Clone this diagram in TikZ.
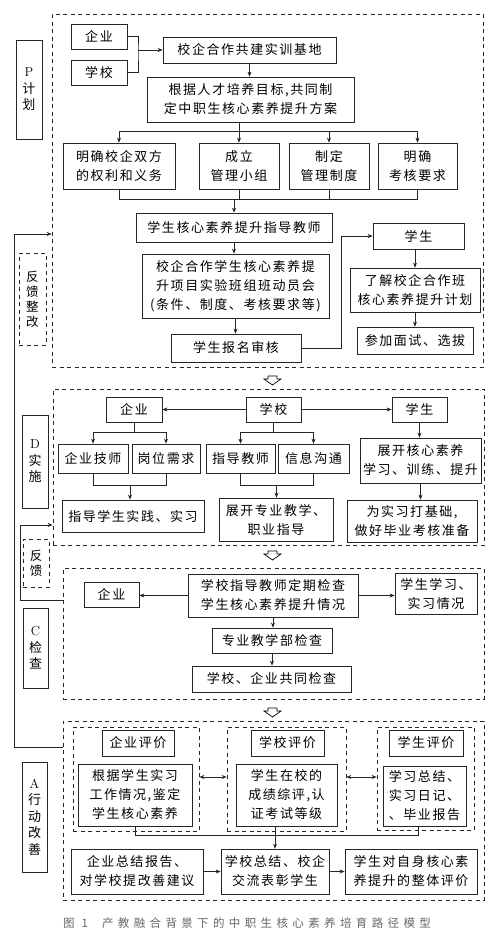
\documentclass[tikz,border=0pt]{standalone}
\usepackage{fontspec}
\usetikzlibrary{arrows.meta}
\newfontfamily\cjk[LetterSpace=12]{Noto Sans CJK SC}
\newfontfamily\cjkcap[LetterSpace=38]{Noto Sans CJK SC}
\newcommand\mybox[7][box]{\node[#1, minimum width={(#5-#3)*1pt}, minimum height={(#6-#4)*1pt}] (#2) at ({(#3+#5)/2},{(#4+#6)/2}) {#7};}
\newcommand\hollowarrow[1]{\draw[line width=0.7pt, fill=white] (268,#1)--(277,#1)--(277,#1+3)--(281,#1+3)--(272.5,#1+9)--(264,#1+3)--(268,#1+3)--cycle;}
\begin{document}
\begin{tikzpicture}[x=1pt,y=-1pt,
  box/.style={draw=black!85, line width=0.7pt, inner sep=0pt, align=center, font=\cjk\fontsize{13}{19}\selectfont},
  lbox/.style={box, font=\cjk\fontsize{13}{16.5}\selectfont},
  dbox/.style={draw=black!85, line width=0.7pt, dash pattern=on 4pt off 3.5pt, inner sep=0pt},
  dlbox/.style={dbox, align=center, font=\cjk\fontsize{12.5}{15}\selectfont},
  ln/.style={draw=black!85, line width=0.7pt},
  arr/.style={ln, -{Stealth[length=5pt,width=4pt]}},
  darr/.style={ln, {Stealth[length=5pt,width=4pt]}-{Stealth[length=5pt,width=4pt]}}]
\useasboundingbox (0,0) rectangle (500,935);

% outer dashed frames
\mybox[dbox]{Po}{52}{14}{483}{367}{}
\mybox[dbox]{Do}{53}{389}{484}{545}{}
\mybox[dbox]{Co}{63}{568}{484}{699}{}
\mybox[dbox]{Ao}{63}{721}{484}{900}{}

% stage labels
\mybox[lbox]{Pl}{16}{40}{42}{139}{{\rmfamily P}\\计\\划}
\mybox[lbox]{Dl}{22}{415}{48}{508}{{\rmfamily D}\\实\\施}
\mybox[lbox]{Cl}{23}{608}{48}{688}{{\rmfamily C}\\检\\查}
\mybox[lbox]{Al}{22}{762}{47}{872}{{\rmfamily A}\\行\\动\\改\\善}
\mybox[dlbox]{fk1}{19}{253}{46}{345}{反\\馈\\整\\改}
\mybox[dlbox]{fk2}{23}{539}{49}{587}{反\\馈}

% P section
\mybox{qy1}{71}{24}{127}{49}{企业}
\mybox{xx1}{71}{60}{127}{85}{学校}
\mybox{jd}{163}{37}{336}{63}{校企合作共建实训基地}
\mybox{fa}{147}{77}{354}{122}{根据人才培养目标,共同制\\定中职生核心素养提升方案}
\mybox{b1}{63}{143}{175}{189}{明确校企双方\\的权利和义务}
\mybox{b2}{199}{143}{279}{189}{成立\\管理小组}
\mybox{b3}{289}{143}{369}{189}{制定\\管理制度}
\mybox{b4}{378}{143}{457}{189}{明确\\考核要求}
\mybox{td}{136}{213}{332}{242}{学生核心素养提升指导教师}
\mybox{dy}{142}{254}{329}{318}{校企合作学生核心素养提\\升项目实验班组班动员会\\(条件、制度、考核要求等)}
\mybox{bm}{171}{334}{301}{362}{学生报名审核}
\mybox{xs1}{373}{223}{464}{249}{学生}
\mybox{lj}{350}{268}{480}{312}{了解校企合作班\\核心素养提升计划}
\mybox{cj}{357}{327}{473}{354}{参加面试、选拔}

% D section
\mybox{qy2}{106}{397}{162}{422}{企业}
\mybox{xx2}{246}{397}{301}{422}{学校}
\mybox{xs2}{392}{397}{447}{422}{学生}
\mybox{js}{58}{444}{128}{473}{企业技师}
\mybox{gw}{132}{444}{200}{473}{岗位需求}
\mybox{zdj}{206}{444}{275}{473}{指导教师}
\mybox{xxg}{278}{444}{349}{473}{信息沟通}
\mybox{zd}{62}{500}{204}{532}{指导学生实践、实习}
\mybox{zk}{219}{498}{333}{541}{展开专业教学、\\职业指导}
\mybox{zkh}{360}{438}{481}{483}{展开核心素养\\学习、训练、提升}
\mybox{wsx}{347}{500}{477}{542}{为实习打基础,\\做好毕业考核准备}

% C section
\mybox{qy3}{84}{582}{139}{607}{企业}
\mybox{jc}{188}{574}{358}{617}{学校指导教师定期检查\\学生核心素养提升情况}
\mybox{xq}{395}{573}{477}{614}{学生学习、\\实习情况}
\mybox{zy}{212}{628}{332}{653}{专业教学部检查}
\mybox{gj}{192}{666}{351}{692}{学校、企业共同检查}

% A section
\mybox[dbox]{sd1}{73}{727}{199}{831}{}
\mybox[dbox]{sd2}{227}{727}{346}{831}{}
\mybox[dbox]{sd3}{377}{727}{474}{830}{}
\mybox{qp}{102}{730}{174}{756}{企业评价}
\mybox{qg}{78}{764}{192}{826}{根据学生实习\\工作情况,鉴定\\学生核心素养}
\mybox{xp}{251}{730}{324}{756}{学校评价}
\mybox{xg}{236}{764}{337}{826}{学生在校的\\成绩综评,认\\证考试等级}
\mybox{sp}{389}{730}{463}{756}{学生评价}
\mybox{sg}{383}{766}{466}{826}{学习总结、\\实习日记、\\、毕业报告}
\mybox{qz}{71}{849}{203}{894}{企业总结报告、\\对学校提改善建议}
\mybox{xz}{221}{849}{329}{894}{学校总结、校企\\交流表彰学生}
\mybox{xd}{345}{849}{477}{894}{学生对自身核心素\\养提升的整体评价}

% hollow arrows between stages
\hollowarrow{376}
\hollowarrow{551}
\hollowarrow{708}

% P connectors
\coordinate (br) at (138,50);
\draw[ln] (qy1.east) -| (br) |- (xx1.east);
\draw[arr] (br) -- (jd.west);
\draw[arr] (jd.south) -- (jd.south |- fa.north);
\coordinate (d1) at (0,131);
\draw[ln] (fa.south -| b2) -- (b2 |- d1);
\draw[ln] (b1 |- d1) -- (b4 |- d1);
\foreach \b in {b1,b2,b3,b4} \draw[arr] (\b |- d1) -- (\b.north);
\coordinate (m1) at (0,199);
\draw[ln] (b1.south) -- (b1 |- m1) -- (b4 |- m1) -- (b4.south);
\draw[ln] (b2.south) -- (b2 |- m1);
\draw[ln] (b3.south) -- (b3 |- m1);
\draw[arr] (td |- m1) -- (td.north);
\draw[arr] (td.south) -- (td.south |- dy.north);
\draw[arr] (dy.south) -- (dy.south |- bm.north);
\coordinate (k1) at (341,0);
\draw[arr] (bm.east) -| (k1 |- xs1) -- (xs1.west);
\draw[arr] (lj.north |- xs1.south) -- (lj.north);
\draw[arr] (cj.north |- lj.south) -- (cj.north);

% D connectors
\draw[arr] (xx2.west) -- (qy2.east);
\draw[arr] (xx2.east) -- (xs2.west);
\coordinate (d2) at (0,432);
\coordinate (m2) at (0,485);
\draw[ln] (qy2.south) -- (qy2 |- d2);
\draw[ln] (js |- d2) -- (gw |- d2);
\draw[arr] (js |- d2) -- (js.north);
\draw[arr] (gw |- d2) -- (gw.north);
\draw[ln] (js.south) -- (js |- m2) -- (gw |- m2) -- (gw.south);
\path (js) -- (gw) coordinate[midway] (c2);
\draw[arr] (c2 |- m2) -- (c2 |- zd.north);
\draw[ln] (xx2.south) -- (xx2 |- d2);
\draw[ln] (zdj |- d2) -- (xxg |- d2);
\draw[arr] (zdj |- d2) -- (zdj.north);
\draw[arr] (xxg |- d2) -- (xxg.north);
\draw[ln] (zdj.south) -- (zdj |- m2) -- (xxg |- m2) -- (xxg.south);
\path (zdj) -- (xxg) coordinate[midway] (c3);
\draw[arr] (c3 |- m2) -- (c3 |- zk.north);
\draw[arr] (xs2.south) -- (xs2.south |- zkh.north);
\draw[arr] (zkh.south) -- (zkh.south |- wsx.north);

% C connectors
\draw[arr] (jc.west) -- (jc.west -| qy3.east);
\draw[arr] (jc.east) -- (jc.east -| xq.west);
\draw[arr] (jc.south) -- (jc.south |- zy.north);
\draw[arr] (zy.south) -- (zy.south |- gj.north);

% A connectors
\coordinate (a1) at (0,777);
\draw[darr] (sd1.east |- a1) -- (sd2.west |- a1);
\draw[darr] (sd2.east |- a1) -- (sd3.west |- a1);
\coordinate (m4) at (0,835);
\coordinate (sgx) at ([xshift=-6pt]sg.south);
\draw[ln] (qg.south) -- (qg |- m4) -- (sgx |- m4) -- (sgx);
\draw[arr] (xz.north |- xg.south) -- (xz.north);
\draw[arr] (qz.east) -- (qz.east -| xz.west);
\draw[arr] (xz.east) -- (xz.east -| xd.west);

% feedback loops
\coordinate (f1) at (14,747);
\coordinate (f2) at (14,234);
\draw[arr] (Ao.west |- f1) -- (f1) -- (f2) -- (Po.west |- f2);
\coordinate (g1) at (20,600);
\coordinate (g2) at (20,525);
\draw[arr] (Co.west |- g1) -- (g1) -- (g2) -- (Do.west |- g2);

% caption
\node[anchor=west, text=black!60, font=\cjkcap\fontsize{11.5}{12}\selectfont, inner sep=0pt] (cap) at (63,923) {图 1\hspace{14pt}产教融合背景下的中职生核心素养培育路径模型};
\end{tikzpicture}
\end{document}
